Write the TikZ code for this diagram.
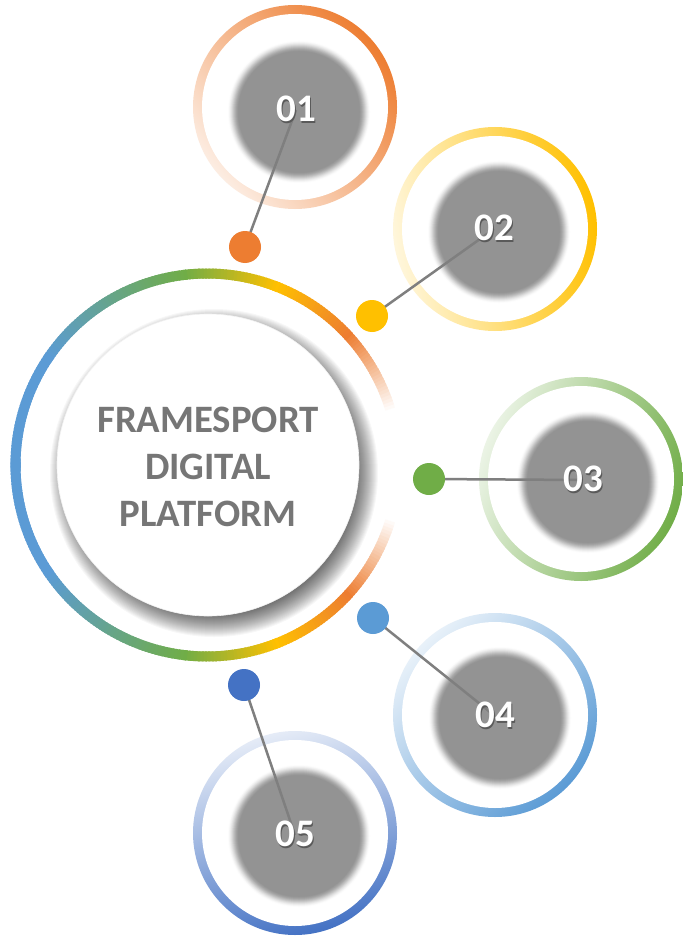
\documentclass[tikz,border=0pt]{standalone}
\usepackage{fontspec}
\setmainfont{Carlito}
\definecolor{cA}{HTML}{ED7D31}
\definecolor{cB}{HTML}{FFC000}
\definecolor{cC}{HTML}{70AD47}
\definecolor{cD}{HTML}{5B9BD5}
\definecolor{cE}{HTML}{4472C4}
\definecolor{ringlt}{HTML}{F6C3A0}
\definecolor{discgray}{HTML}{939393}
\definecolor{maintext}{HTML}{767676}
\definecolor{conncol}{HTML}{7F7F7F}
\definecolor{numshadow}{HTML}{5A5A5A}
\pgfdeclarelayer{back}
\pgfdeclarelayer{mid}
\pgfsetlayers{back,mid,main}
\newcommand\shtext[1]{\makebox[0pt][l]{\hspace{1.6pt}\raisebox{-1.6pt}{\color{numshadow}#1}}\color{white}#1}
\newcommand\graydisc[1]{%
  \foreach \i in {0,...,24}{%
    \pgfmathsetmacro\rr{72-\i*0.5}%
    \pgfmathsetmacro\tt{\i/24}%
    \pgfmathtruncatemacro\pp{100*(3*\tt*\tt-2*\tt*\tt*\tt)}%
    \fill[discgray!\pp!white] #1 circle (\rr pt);
  }%
  \fill[discgray] #1 circle (60pt);
}
\tikzset{
  dotnode/.style={circle, inner sep=0pt, minimum size=32pt, fill=#1},
  numlabel/.style={inner sep=0pt, font=\bfseries\fontsize{39}{44}\selectfont},
  conn/.style={draw=conncol, line width=2.5pt},
  smallring/.style={top color=#1, bottom color=#1!14!white},
  maintitle/.style={align=center, text=maintext, font=\bfseries\fontsize{38.8}{47}\selectfont}
}
\begin{document}
\begin{tikzpicture}[x=1pt,y=1pt]
\useasboundingbox (0,0) rectangle (682,-936);
\begin{pgfonlayer}{back}
\fill[white] (0,0) rectangle (682,-936);
\coordinate (C) at (207,-465);
% main gradient ring
\foreach \a/\b/\ca/\cb in {16/28/white/ringlt, 28/42/ringlt/cA, 42/68/cA/cB, 68/96/cB/cC, 96/145/cC/cD, 145/180/cD/cD}{
  \foreach \k in {\a,...,\b}{
    \pgfmathtruncatemacro\p{100*(\k-\a)/(\b-\a)}
    \draw[line width=10pt, draw=\cb!\p!\ca] (C) ++(\k:191.5pt) arc[start angle=\k, end angle=\k+1.6, radius=191.5pt];
    \draw[line width=10pt, draw=\cb!\p!\ca] (C) ++(-\k:191.5pt) arc[start angle=-\k, end angle=-\k-1.6, radius=191.5pt];
  }
}
% soft shadow of the inner circle
\foreach \i in {0,...,26}{
  \fill[black, opacity=0.03] (214,-473) circle ({164-\i*1.0});
}
% inner white circle
\fill[white, draw=black!5, line width=0.6pt] (208,-465) circle (151pt);
% small rings
\shade[smallring=cA, shading angle=-50] (295,-107) circle (102pt);
\fill[white] (295,-107) circle (93pt);
\shade[smallring=cB, shading angle=-80] (495,-229) circle (102pt);
\fill[white] (495,-229) circle (93pt);
\shade[smallring=cC, shading angle=-110] (581,-479) circle (102pt);
\fill[white] (581,-479) circle (93pt);
\shade[smallring=cD, shading angle=-135] (495,-715) circle (102pt);
\fill[white] (495,-715) circle (93pt);
\shade[smallring=cE, shading angle=-165] (295,-833) circle (102pt);
\fill[white] (295,-833) circle (93pt);
% gray discs with soft edge
\graydisc{(299,-112)}
\graydisc{(499,-232)}
\graydisc{(588,-482)}
\graydisc{(500,-718)}
\graydisc{(299,-836)}
\end{pgfonlayer}

\node[maintitle] (title) at (208,-467) {FRAMESPORT\\DIGITAL\\PLATFORM};

\node[dotnode=cA] (d1) at (245,-247) {};
\node[dotnode=cB] (d2) at (372,-316) {};
\node[dotnode=cC] (d3) at (429,-479) {};
\node[dotnode=cD] (d4) at (373,-618) {};
\node[dotnode=cE] (d5) at (244,-685) {};

\node[numlabel] (t1) at (296,-110) {\shtext{01}};
\node[numlabel] (t2) at (494,-229) {\shtext{02}};
\node[numlabel] (t3) at (583,-480) {\shtext{03}};
\node[numlabel] (t4) at (495,-716) {\shtext{04}};
\node[numlabel] (t5) at (295,-835) {\shtext{05}};

\begin{pgfonlayer}{mid}
\draw[conn] (d1.center) -- (t1.center);
\draw[conn] (d2.center) -- (t2.center);
\draw[conn] (d3.center) -- (t3.center);
\draw[conn] (d4.center) -- (t4.center);
\draw[conn] (d5.center) -- (t5.center);
\end{pgfonlayer}
\end{tikzpicture}
\end{document}
